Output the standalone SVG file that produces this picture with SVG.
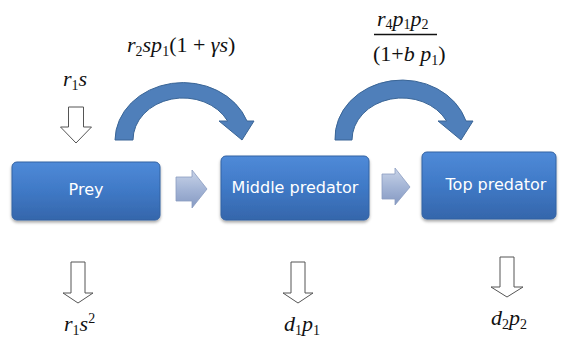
<svg xmlns="http://www.w3.org/2000/svg" width="562" height="339" viewBox="0 0 562 339">
<defs>
<linearGradient id="boxGrad" x1="0" y1="0" x2="0" y2="1">
<stop offset="0" stop-color="#4f8ad8"/>
<stop offset="0.5" stop-color="#3f79c6"/>
<stop offset="1" stop-color="#3566ab"/>
</linearGradient>
<linearGradient id="smallGrad" x1="0" y1="0" x2="0" y2="1">
<stop offset="0" stop-color="#c9d4e8"/>
<stop offset="0.5" stop-color="#a4b5d6"/>
<stop offset="1" stop-color="#8599c2"/>
</linearGradient>
<filter id="shadow" x="-10%" y="-10%" width="125%" height="135%">
<feDropShadow dx="0" dy="2" stdDeviation="1.5" flood-color="#000" flood-opacity="0.35"/>
</filter>
</defs>
<style>
.box{fill:url(#boxGrad);stroke:#3362a3;stroke-width:1;filter:url(#shadow)}
.lbl{font-family:"DejaVu Sans",sans-serif;font-size:16px;fill:#fff;text-anchor:middle}
.curve{fill:#4f7fba;stroke:#3a6596;stroke-width:1}
.small{fill:url(#smallGrad);stroke:#8a9cc0;stroke-width:0.8}
.hollow{fill:#fff;stroke:#555;stroke-width:1}
.m{font-family:"Liberation Serif","DejaVu Serif",serif;font-size:22px;fill:#111}
.i{font-style:italic}
.sub{font-size:14px}
</style>
<rect width="562" height="339" fill="#fff"/>
<g id="prey">
<rect class="box" x="12" y="162" width="148" height="58" rx="5"/>
<text class="lbl" x="86" y="195">Prey</text>
</g>
<g id="middle-predator">
<rect class="box" x="221" y="156" width="148" height="64" rx="5"/>
<text class="lbl" x="295" y="193">Middle predator</text>
</g>
<g id="top-predator">
<rect class="box" x="422" y="152" width="134" height="67" rx="5"/>
<text class="lbl" x="496" y="190">Top predator</text>
</g>
<g id="connectors">
<path class="small" d="M176 177 L192 177 L192 170 L207 189 L192 208 L192 201 L176 201 Z"/>
<path class="small" d="M382 174 L395 174 L395 168 L410 187 L395 205 L395 199 L382 199 Z"/>
<path class="curve" d="M115 140 A68 58 0 0 1 247 121 L254 121 L242 140 L219 121 L227.6 121 A50 42 0 0 0 133 140 Z"/>
<path class="curve" transform="translate(219,0)" d="M116 140 A67 58 0 0 1 247 121 L254 121 L242 140 L219 121 L227.6 121 A50 42 0 0 0 133 140 Z"/>
<path class="hollow" d="M68.5 107 L83.5 107 L83.5 127 L91.5 127 L76 143 L60.5 127 L68.5 127 Z"/>
<path class="hollow" d="M71 262 L85 262 L85 293 L93 293 L78 303 L63 293 L71 293 Z"/>
<path class="hollow" d="M291 262 L305 262 L305 293 L313 293 L298 303 L283 293 L291 293 Z"/>
<path class="hollow" d="M500 257 L514 257 L514 287 L523 287 L507 297 L491 287 L500 287 Z"/>
</g>
<g id="labels">
<text class="m" x="63" y="86"><tspan class="i">r</tspan><tspan class="sub" dy="4">1</tspan><tspan class="i" dy="-4">s</tspan></text>
<text class="m" x="127" y="52"><tspan class="i">r</tspan><tspan class="sub" dy="4">2</tspan><tspan class="i" dy="-4">sp</tspan><tspan class="sub" dy="4">1</tspan><tspan dy="-4">(1 + </tspan><tspan class="i">γs</tspan><tspan>)</tspan></text>
<text class="m" x="377" y="26"><tspan class="i">r</tspan><tspan class="sub" dy="3">4</tspan><tspan class="i" dy="-3">p</tspan><tspan class="sub" dy="3">1</tspan><tspan class="i" dy="-3">p</tspan><tspan class="sub" dy="3">2</tspan></text>
<line x1="374" y1="34.5" x2="437" y2="34.5" stroke="#111" stroke-width="1.3"/>
<text class="m" x="373" y="61"><tspan>(1+</tspan><tspan class="i">b p</tspan><tspan class="sub" dy="4">1</tspan><tspan dy="-4">)</tspan></text>
<text class="m" x="64" y="331"><tspan class="i">r</tspan><tspan class="sub" dy="4">1</tspan><tspan class="i" dy="-4">s</tspan><tspan class="sub" dy="-8">2</tspan></text>
<text class="m" x="284" y="331"><tspan class="i">d</tspan><tspan class="sub" dy="4">1</tspan><tspan class="i" dy="-4">p</tspan><tspan class="sub" dy="4">1</tspan></text>
<text class="m" x="491" y="325"><tspan class="i">d</tspan><tspan class="sub" dy="4">2</tspan><tspan class="i" dy="-4">p</tspan><tspan class="sub" dy="4">2</tspan></text>
</g>
</svg>
